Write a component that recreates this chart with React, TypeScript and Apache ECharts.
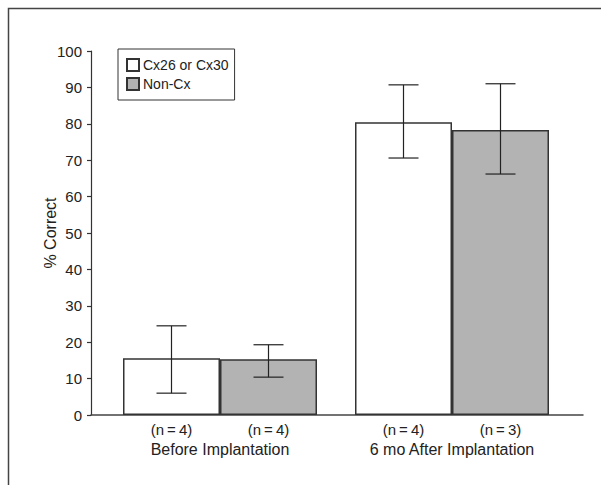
import React, { useEffect, useRef } from "react";
import * as echarts from "echarts";

const categories = ["Before Implantation", "6 mo After Implantation"];
const seriesNames = ["Cx26 or Cx30", "Non-Cx"];
const cxMean = [15.6, 80.4];
const cxLow = [6.0, 70.6];
const cxHigh = [24.5, 90.7];
const nonMean = [15.3, 78.3];
const nonLow = [10.4, 66.2];
const nonHigh = [19.3, 91.0];
const cxN = ["(n\u2009=\u20094)", "(n\u2009=\u20094)"];
const nonN = ["(n\u2009=\u20094)", "(n\u2009=\u20093)"];
const yMin = 0;
const yMax = 100;
const yInterval = 10;

const FONT = "'Liberation Sans Narrow', 'Arial Narrow', 'Liberation Sans', sans-serif";
const BAR_W = 97;

export default function App() {
  const ref = useRef<HTMLDivElement>(null);
  useEffect(() => {
    if (!ref.current) return;
    const chart = echarts.init(ref.current, null, { renderer: "svg" });

    const errSeries = (low: number[], high: number[], side: number) => ({
      type: "custom",
      xAxisIndex: 0,
      yAxisIndex: 0,
      z: 10,
      silent: true,
      data: low.map((l, i) => [i, l, high[i]]),
      encode: { x: 0, y: [1, 2] },
      renderItem: (params: any, api: any) => {
        const cat = api.value(0);
        const lo = api.coord([cat, api.value(1)]);
        const hi = api.coord([cat, api.value(2)]);
        const x = lo[0] + (side * BAR_W) / 2;
        const cap = 15;
        const st = { stroke: "#222", lineWidth: 1.2 };
        return {
          type: "group",
          children: [
            { type: "line", shape: { x1: x, y1: lo[1], x2: x, y2: hi[1] }, style: st },
            { type: "line", shape: { x1: x - cap, y1: lo[1], x2: x + cap, y2: lo[1] }, style: st },
            { type: "line", shape: { x1: x - cap, y1: hi[1], x2: x + cap, y2: hi[1] }, style: st },
          ],
        };
      },
    });

    const barLabel = (labels: string[]) => ({
      show: true,
      position: "bottom",
      distance: 7,
      formatter: (p: any) => labels[p.dataIndex],
      fontFamily: FONT,
      fontSize: 15,
      color: "#222",
    });

    chart.setOption({
      animation: false,
      backgroundColor: "#fff",
      textStyle: { fontFamily: FONT },
      graphic: [
        {
          type: "rect",
          silent: true,
          shape: { x: 8.5, y: 8.5, width: 900, height: 900 },
          style: { fill: "none", stroke: "#444", lineWidth: 1.5 },
        },
      ],
      legend: {
        data: seriesNames,
        orient: "vertical",
        left: 118,
        top: 49,
        padding: [9, 6, 9, 8],
        itemGap: 5,
        itemWidth: 12,
        itemHeight: 12,
        icon: "rect",
        borderColor: "#333",
        borderWidth: 1,
        textStyle: { fontFamily: FONT, fontSize: 14, color: "#222", padding: [0, 0, 0, -1] },
      },
      grid: [
        { left: 104, right: 33, top: 51, bottom: 70 },
        { left: 91, right: 18, top: 51, bottom: 70 },
      ],
      xAxis: [
        {
          type: "category",
          gridIndex: 0,
          data: categories,
          axisLine: { show: false },
          axisTick: { show: false },
          axisLabel: { margin: 26, fontFamily: FONT, fontSize: 16, color: "#222" },
        },
        {
          type: "value",
          gridIndex: 1,
          min: 0,
          max: 1,
          axisLine: { show: true, lineStyle: { color: "#444", width: 1.5 } },
          axisTick: { show: false },
          axisLabel: { show: false },
          splitLine: { show: false },
        },
      ],
      yAxis: [
        {
          type: "value",
          gridIndex: 0,
          min: yMin,
          max: yMax,
          interval: yInterval,
          offset: 13,
          name: "% Correct",
          nameLocation: "middle",
          nameGap: 33,
          nameMoveOverlap: false,
          nameTextStyle: { fontFamily: FONT, fontSize: 16, color: "#222" },
          axisLine: { show: true, lineStyle: { color: "#333", width: 1.2 } },
          axisTick: { show: true, length: 4, lineStyle: { color: "#333", width: 1.2 } },
          axisLabel: { margin: 9, fontFamily: FONT, fontSize: 15, color: "#222" },
          splitLine: { show: false },
        },
        {
          type: "value",
          gridIndex: 1,
          min: yMin,
          max: yMax,
          show: false,
        },
      ],
      series: [
        {
          name: seriesNames[0],
          type: "bar",
          xAxisIndex: 0,
          yAxisIndex: 0,
          data: cxMean,
          barWidth: BAR_W,
          barGap: "0%",
          itemStyle: { color: "#ffffff", borderColor: "#333", borderWidth: 1.5 },
          label: barLabel(cxN),
        },
        {
          name: seriesNames[1],
          type: "bar",
          xAxisIndex: 0,
          yAxisIndex: 0,
          data: nonMean,
          barWidth: BAR_W,
          barGap: "0%",
          itemStyle: { color: "#b3b3b3", borderColor: "#333", borderWidth: 1.5 },
          label: barLabel(nonN),
        },
        errSeries(cxLow, cxHigh, -1),
        errSeries(nonLow, nonHigh, 1),
      ],
    });
    return () => chart.dispose();
  }, []);
  return (
    <div
      ref={ref}
      style={{ position: "fixed", left: 0, top: 0, width: 601, height: 485 }}
    />
  );
}
